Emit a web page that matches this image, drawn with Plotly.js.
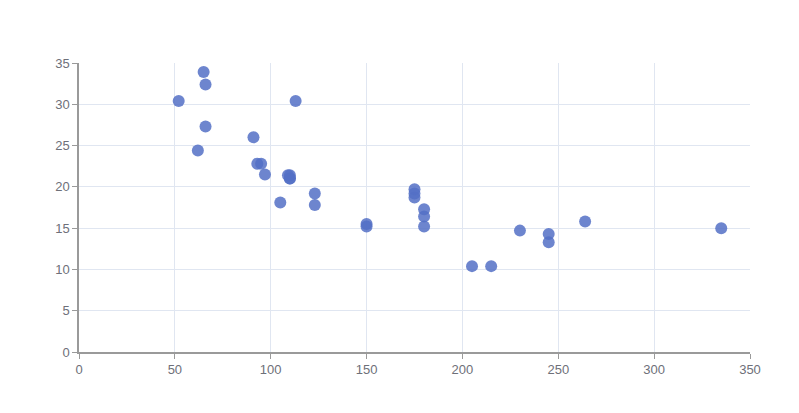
<!DOCTYPE html>
<html>
<head>
<meta charset="utf-8">
<script src="https://cdn.plot.ly/plotly-3.0.1.min.js"></script>
<style>
  html, body { margin: 0; padding: 0; background: #fff; }
  #chart { width: 799px; height: 413px; }
</style>
</head>
<body>
<div id="chart"></div>
<script>
// horsepower vs miles per gallon
const hp = [110, 110, 93, 110, 175, 105, 245, 62, 95, 123, 123, 180, 180, 180, 205, 215,
            230, 66, 52, 65, 97, 150, 150, 245, 175, 66, 91, 113, 264, 175, 335, 109];
const mpg = [21.0, 21.0, 22.8, 21.4, 18.7, 18.1, 14.3, 24.4, 22.8, 19.2, 17.8, 16.4, 17.3, 15.2, 10.4, 10.4,
             14.7, 32.4, 30.4, 33.9, 21.5, 15.5, 15.2, 13.3, 19.2, 27.3, 26.0, 30.4, 15.8, 19.7, 15.0, 21.4];

const AXIS = {
  showline: true,
  linecolor: '#9a9a9a',
  linewidth: 1.5,
  ticks: 'outside',
  ticklen: 5,
  tickcolor: '#9a9a9a',
  gridcolor: '#e0e6f1',
  zeroline: false,
  tickfont: { family: 'Liberation Sans, Arial, sans-serif', size: 13, color: '#6e7079' },
};

const trace = {
  type: 'scatter',
  mode: 'markers',
  x: hp,
  y: mpg,
  marker: { color: 'rgba(84,112,198,0.85)', size: 12, line: { width: 0 } },
  hoverinfo: 'x+y',
};

const layout = {
  width: 799,
  height: 413,
  paper_bgcolor: '#fff',
  plot_bgcolor: '#fff',
  margin: { t: 63, r: 49, b: 61, l: 79 },
  showlegend: false,
  xaxis: { ...AXIS, range: [0, 350], dtick: 50 },
  yaxis: { ...AXIS, range: [0, 35], dtick: 5 },
};

Plotly.newPlot('chart', [trace], layout, { displayModeBar: false });
</script>
</body>
</html>
